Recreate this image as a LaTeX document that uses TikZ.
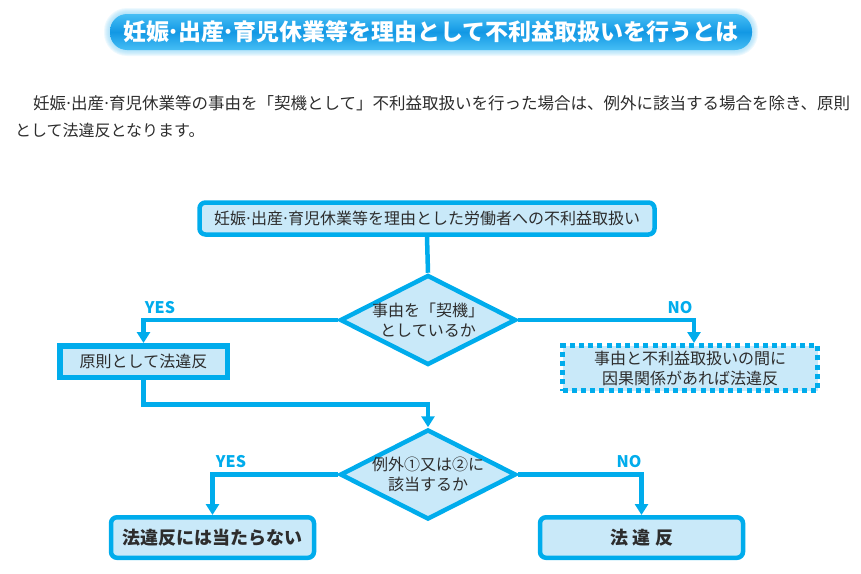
\documentclass[tikz,border=0pt]{standalone}
\usepackage{fontspec}
\setmainfont{Noto Sans CJK JP}
\usetikzlibrary{positioning, shapes.geometric, arrows.meta, calc}
\definecolor{flowclr}{RGB}{0,172,236}
\definecolor{boxbg}{RGB}{201,233,249}
\definecolor{txtclr}{RGB}{45,45,45}
\definecolor{bannerclr}{RGB}{18,152,228}
\definecolor{bannerlt}{RGB}{70,190,245}
\definecolor{bannerglow}{RGB}{140,212,246}
% narrow middle dot
\newcommand{\nd}[1][5pt]{\makebox[#1]{·}}

\begin{document}
\begin{tikzpicture}[
    x=1pt, y=-1pt,
    font=\fontsize{16}{20}\selectfont,
    text=txtclr,
    >={Triangle[width=13pt, length=11pt]},
    % --- node styles ---
    box/.style    ={draw=flowclr, fill=boxbg, line width=4.5pt, align=center,
                    inner sep=0pt},
    rbox/.style   ={box, rounded corners=6pt},
    sbox/.style   ={box, line width=5.5pt},
    dbox/.style   ={box, line width=5pt, dash pattern=on 5pt off 4.2pt},
    decide/.style ={box, diamond, minimum width=176pt, minimum height=90pt},
    endbox/.style ={rbox, minimum width=203pt, minimum height=40.5pt,
                    font=\fontsize{18}{20}\selectfont\bfseries},
    answer/.style ={text=flowclr, inner sep=0pt,
                    font=\fontsize{16}{16}\selectfont\bfseries},
    % --- wire styles ---
    flow/.style   ={->, draw=flowclr, line width=4.5pt},
]
\useasboundingbox (0,0) rectangle (861,573);

% =============== title banner ===============
\foreach \g in {1,...,6}
  \fill[bannerglow, opacity=0.15, rounded corners=17pt+\g pt]
    (110-\g,14-\g) rectangle (752+\g,50+\g);
\shade[top color=bannerlt, bottom color=bannerlt, middle color=bannerclr,
       rounded corners=17pt] (110,14) rectangle (752,50);
\node[text=white, font=\fontsize{23}{25}\selectfont\bfseries] (title) at (431,32)
  {妊娠\nd[9pt]出産\nd[9pt]育児休業等を理由として不利益取扱いを行うとは};

% =============== intro text ===============
\node[anchor=west, inner sep=0pt, font=\fontsize{16.5}{20}\selectfont] (intro1) at (33,103)
  {妊娠\nd 出産\nd 育児休業等の事由を「契機として」不利益取扱いを行った場合は、例外に該当する場合を除き、原則};
\node[anchor=west, inner sep=0pt] (intro2) at (15,130)
  {として法違反となります。};

% =============== flow chart ===============
\node[rbox, minimum width=455pt, minimum height=32pt] (cause) at (427,218.5)
  {妊娠\nd 出産\nd 育児休業等を理由とした労働者への不利益取扱い};
\node[decide, label={[align=center]center:{事由を「契機」\\としているか}}]
  (judge1) at (428,320) {};
\node[sbox, minimum width=167.5pt, minimum height=31.5pt] (rule) at (143.5,361.5)
  {原則として法違反};
\node[dbox, minimum width=255pt, minimum height=45pt] (nexus) at (690,368)
  {事由と不利益取扱いの間に\\因果関係があれば法違反};
\node[decide, label={[align=center]center:{例外①又は②に\\該当するか}}]
  (judge2) at (428,474.5) {};
\node[endbox] (noviol) at (212.5,537.5) {法違反には当たらない};
\node[endbox] (viol) at (641.5,537.5) {法\hspace{4.5pt}違\hspace{4.5pt}反};

% =============== answers ===============
\node[answer] (yes1) at (160,308) {YES};
\node[answer] (no1)  at (680,308) {NO};
\node[answer] (yes2) at (231,462) {YES};
\node[answer] (no2)  at (629,461.5) {NO};

% =============== wires ===============
\draw[flow, -] (cause.south) -- (judge1.north);
\draw[flow] (judge1.west) -| (rule.north);
\draw[flow] (judge1.east) -| ([xshift=4pt]nexus.north);
\draw[flow] (rule.south) -- ++(0,24.5) -| (judge2.north);
\draw[flow] (judge2.west) -| (noviol.north);
\draw[flow] (judge2.east) -| (viol.north);

\end{tikzpicture}
\end{document}
